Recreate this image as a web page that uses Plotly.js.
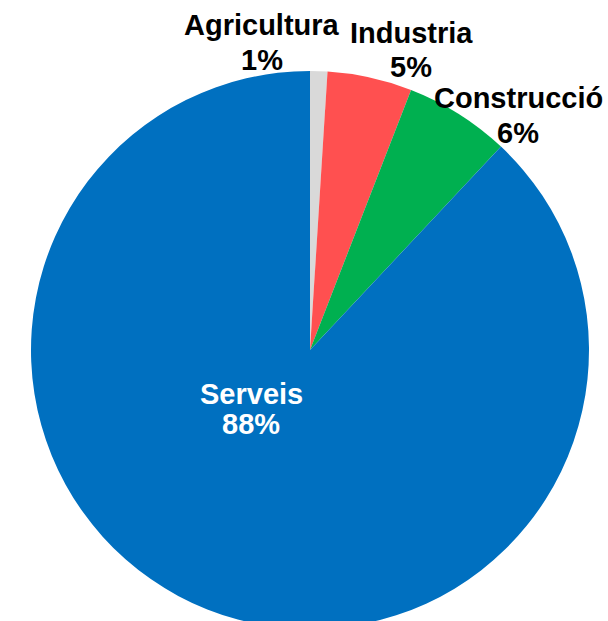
<!DOCTYPE html>
<html>
<head>
<meta charset="utf-8">
<script src="https://cdn.plot.ly/plotly-3.0.1.min.js"></script>
<style>
html,body{margin:0;padding:0;overflow:hidden;background:#fff;}
#chart{width:620px;height:700px;}
</style>
</head>
<body>
<div id="chart"></div>
<script>
const categories = ["Agricultura", "Industria", "Construcció", "Serveis"];
const values = [1.0, 4.9, 6.1, 88.0];
const colors = ["#d9d9d9", "#ff5050", "#00b050", "#0070c0"];
const labelColors = ["#000000", "#000000", "#000000", "#ffffff"];

const W = 620, H = 700;
// label anchor points in pixels (centre x, baseline of name, baseline of percent)
const labelPos = [
  [262, 35, 70],
  [411, 43, 77],
  [518, 108, 143],
  [251, 404, 434]
];

const total = values.reduce((a, b) => a + b, 0);
const FONT = "Liberation Sans, Arial, sans-serif";
const FS = 29;

const annotations = [];
categories.forEach((c, i) => {
  const pct = Math.round(values[i] / total * 100) + "%";
  const [cx, b1, b2] = labelPos[i];
  [[c, b1], [pct, b2]].forEach(([t, b]) => {
    annotations.push({
      text: "<b>" + t + "</b>",
      xref: "paper", yref: "paper",
      x: cx / W, y: 1 - (b - 10) / H,
      xanchor: "center", yanchor: "middle",
      showarrow: false,
      font: {family: FONT, size: FS, color: labelColors[i]}
    });
  });
});

const trace = {
  type: "pie",
  labels: categories,
  values: values,
  sort: false,
  direction: "clockwise",
  rotation: 0,
  marker: {colors: colors, line: {width: 0}},
  textinfo: "none",
  hoverinfo: "none",
  domain: {x: [31 / W, 589 / W], y: [(H - 629) / H, (H - 71) / H]},
  showlegend: false
};

const layout = {
  width: W,
  height: H,
  margin: {l: 0, r: 0, t: 0, b: 0},
  paper_bgcolor: "#ffffff",
  showlegend: false,
  annotations: annotations
};

Plotly.newPlot("chart", [trace], layout, {staticPlot: true, displayModeBar: false});
</script>
</body>
</html>
